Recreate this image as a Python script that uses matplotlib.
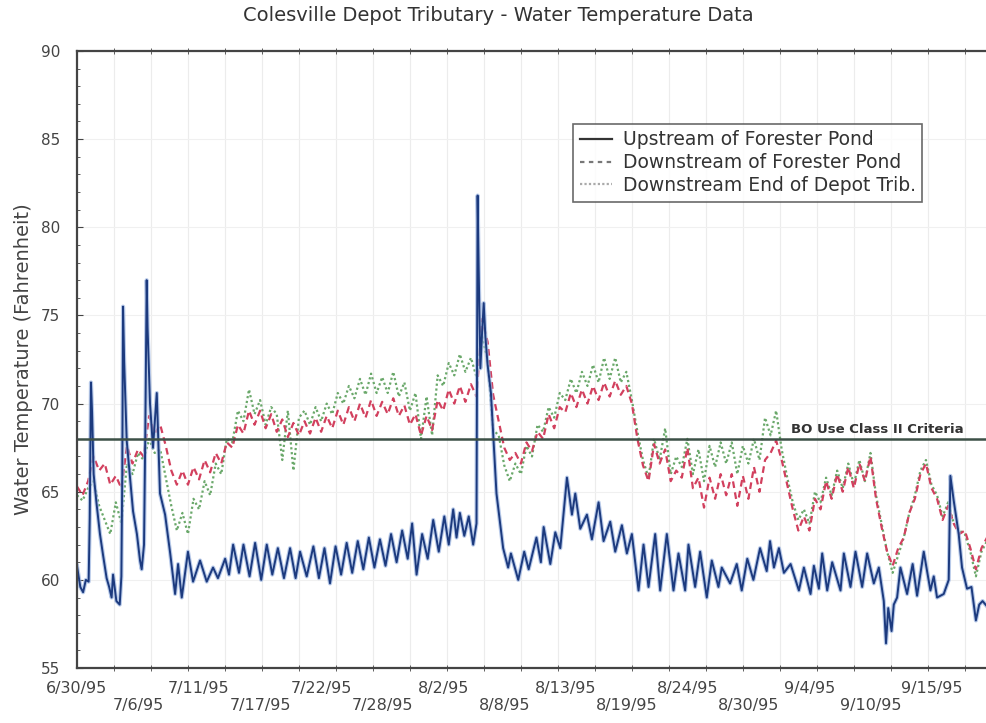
import numpy as np
import matplotlib
matplotlib.use('Agg')
import matplotlib.pyplot as plt
from matplotlib.lines import Line2D
from matplotlib.ticker import MultipleLocator, FixedLocator

# days after 6/30/95 and temperature (F) for the upstream logger
up_day = [0.0, 0.3, 0.55, 0.8, 1.05, 1.15, 1.26, 1.36, 1.5, 1.75, 2.07, 2.35, 2.67, 2.9, 3.12,
          3.25, 3.55, 3.85, 4.0, 4.08, 4.15, 4.25, 4.48, 4.78, 5.05, 5.4, 5.68, 5.83, 6.04, 6.15,
          6.28, 6.36, 6.58, 6.85, 7.19, 7.48, 7.94, 8.4, 8.84, 9.11, 9.44, 10.0, 10.46, 11.09, 11.69,
          12.26, 12.7, 13.35, 13.7,
          14.07, 14.6, 15.0, 15.55, 16.05, 16.6, 17.1, 17.6, 18.1, 18.65, 19.2, 19.7, 20.1, 20.7,
          21.3, 21.8, 22.3, 22.8, 23.3, 23.8, 24.3, 24.8, 25.3, 25.8, 26.3, 26.8, 27.3, 27.8, 28.3,
          28.8, 29.3, 29.8, 30.2, 30.6, 31.1, 31.6, 32.1, 32.6, 33.1, 33.5, 33.9, 34.2, 34.5, 34.9,
          35.3, 35.7, 36.0,
          36.1, 36.2, 36.35, 36.5, 36.65, 36.8, 37.0, 37.3, 37.8, 38.4, 38.85, 39.1, 39.76, 40.3,
          40.7, 41.4, 41.8, 42.05, 42.65, 43.1, 43.55, 44.15, 44.6, 44.9, 45.35, 45.95, 46.4, 47.0,
          47.45, 48.05, 48.5, 49.1, 49.55, 50.0, 50.6, 51.05, 51.5, 52.1, 52.55, 53.15, 53.75, 54.2,
          54.8, 55.1, 55.7, 56.15, 56.75, 57.2, 57.8, 58.1, 58.85, 59.45, 59.9, 60.4, 60.95, 61.55,
          62.15, 62.45, 62.8, 63.25, 63.7, 64.3, 65.05, 65.5, 66.1, 66.4, 66.85, 67.15, 67.6, 68.05,
          68.8, 69.1, 69.7, 70.15, 70.75, 71.2, 71.8, 72.25, 72.7, 72.9, 73.1, 73.4, 73.6, 73.9,
          74.2, 74.8, 75.3, 75.7, 76.3, 76.9, 77.2, 77.5, 78.1, 78.55, 78.7, 79.0, 79.45, 79.75,
          80.2, 80.6, 81.0, 81.3, 81.6, 82.0]
up_temp = [60.8, 59.6, 59.3, 60.0, 59.9, 63.5, 71.2, 69.5, 66.0, 64.4, 62.6, 61.4, 60.1, 59.6, 59.0,
           60.3, 58.8, 58.6, 60.2, 66.0, 75.5, 72.4, 67.9, 65.8, 63.9, 62.6, 61.1, 60.6, 62.0, 68.0,
           77.0, 74.3, 70.0, 67.5, 70.6, 64.9, 63.7, 61.5, 59.2, 60.9, 59.0, 61.6, 59.9, 61.1, 59.9,
           60.7, 60.1, 61.2, 60.3,
           62.0, 60.4, 62.0, 60.2, 62.1, 60.0, 62.0, 60.3, 61.8, 60.1, 61.8, 60.1, 61.6, 60.2,
           61.9, 60.1, 61.8, 59.8, 61.9, 60.3, 62.1, 60.4, 62.2, 60.6, 62.4, 60.7, 62.3, 60.8, 62.6,
           61.0, 62.8, 61.2, 63.2, 60.3, 62.6, 61.2, 63.4, 61.6, 63.6, 62.0, 64.0, 62.4, 63.8, 62.5,
           63.6, 62.0, 63.2,
           81.8, 77.5, 72.0, 74.0, 75.7, 73.8, 72.2, 70.6, 64.9, 61.8, 60.7, 61.5, 60.0, 61.6,
           60.6, 62.4, 61.0, 63.0, 60.9, 62.7, 61.8, 65.8, 63.7, 64.9, 62.9, 63.7, 62.3, 64.4,
           62.2, 63.3, 61.6, 63.1, 61.5, 62.6, 59.4, 62.0, 59.6, 62.6, 59.4, 62.6, 59.4, 61.5,
           59.4, 62.0, 59.6, 61.6, 59.0, 61.1, 59.6, 60.7, 59.8, 60.9, 59.4, 61.2, 60.0, 61.8,
           60.5, 62.2, 60.7, 61.8, 60.4, 60.9, 59.4, 60.7, 59.2, 60.8, 59.5, 61.5, 59.4, 61.0,
           59.4, 61.5, 59.6, 61.6, 59.6, 61.5, 59.8, 60.7, 58.8, 56.4, 58.4, 57.1, 58.6, 59.0,
           60.7, 59.2, 60.9, 59.1, 61.6, 59.4, 60.2, 59.0, 59.2, 60.0, 65.9, 64.5, 62.6, 60.7,
           59.5, 59.6, 57.7, 58.6, 58.8, 58.5]

# the two downstream loggers, read every half day starting 6/30/95
down_pond = [65.3, 64.8, 65.6, 67.0, 66.2, 66.6, 65.4, 65.9, 65.2, 67.6,
             66.6, 67.4, 67.0, 69.3, 68.3, 68.8, 67.6, 66.2, 65.4, 66.2,
             65.4, 66.4, 65.7, 66.8, 66.1, 67.2, 66.6, 67.8, 67.5, 68.8,
             68.3, 69.6, 68.8, 69.6, 68.6, 69.4, 68.4, 69.1, 68.1, 68.9,
             68.2, 69.0, 68.3, 69.2, 68.4, 69.3, 68.6, 69.6, 68.8, 69.8,
             69.0, 70.0, 69.2, 70.2, 69.3, 70.1, 69.4, 70.3, 69.3, 69.9,
             68.8, 69.4, 68.2, 69.3, 68.5, 70.2, 69.6, 70.8, 70.0, 71.0,
             70.1, 71.1, 70.4, 74.8, 73.5, 70.5, 69.0, 67.5, 66.8, 67.2,
             66.6, 67.8, 67.3, 68.4, 68.0, 69.4, 68.6, 69.8, 69.5, 70.6,
             69.8, 70.8, 70.0, 71.0, 70.2, 71.2, 70.4, 71.3, 70.5, 71.0,
             70.0, 68.0, 66.5, 65.6, 67.7, 66.6, 67.4, 65.6, 66.2, 65.8,
             67.5, 65.2, 65.8, 64.1, 65.8, 64.6, 66.0, 64.8, 66.0, 64.2,
             65.9, 64.6, 66.4, 65.0, 66.8, 67.2, 67.9, 66.8, 65.4, 64.0,
             62.8, 63.6, 62.8, 64.6, 64.0, 65.6, 64.6, 66.0, 65.0, 66.4,
             65.2, 66.6, 65.6, 67.0, 64.6, 63.0, 61.6, 60.8, 61.8, 62.4,
             63.8, 64.6, 66.0, 66.6, 65.2, 64.6, 63.4, 64.2, 63.2, 62.6,
             62.8, 61.8, 60.6, 61.8, 62.4]
down_trib = [64.8, 64.5, 65.2, 65.6, 64.2, 63.4, 62.6, 64.4, 63.2, 66.6,
             66.0, 67.2, 66.8, 68.0, 67.2, 67.4, 65.8, 64.2, 62.8, 63.8,
             62.6, 64.6, 64.0, 65.6, 64.8, 66.6, 66.0, 68.0, 67.8, 69.6,
             69.0, 70.8, 69.4, 70.2, 68.8, 69.8, 69.4, 66.8, 69.6, 66.2,
             69.2, 69.6, 68.8, 69.8, 69.0, 70.0, 69.4, 70.6, 70.0, 71.0,
             70.3, 71.4, 70.5, 71.7, 70.6, 71.5, 70.6, 71.8, 70.4, 71.2,
             69.6, 70.6, 68.0, 70.4, 68.2, 71.6, 71.0, 72.3, 71.6, 72.8,
             71.8, 72.6, 71.5, 73.8, 72.5, 68.5, 68.2, 66.5, 65.6, 66.6,
             66.0, 67.6, 67.0, 68.8, 68.4, 69.8, 69.2, 70.6, 70.2, 71.4,
             70.6, 71.8, 71.0, 72.2, 71.2, 72.6, 71.4, 72.6, 71.2, 71.8,
             70.2, 68.4, 66.8, 65.8, 68.0, 66.8, 68.6, 66.0, 67.0, 66.4,
             68.0, 66.0, 67.4, 65.6, 67.6, 66.4, 67.8, 66.6, 67.8, 66.0,
             67.6, 66.6, 68.0, 66.8, 69.2, 68.2, 69.6, 67.4, 65.8, 64.4,
             63.4, 64.0, 63.2, 65.0, 64.4, 65.8, 64.8, 66.2, 65.2, 66.6,
             65.4, 66.8, 65.6, 67.2, 64.8, 63.2, 61.6, 60.4, 61.4, 62.4,
             63.8, 64.8, 66.2, 66.8, 65.4, 64.8, 63.6, 64.4, 63.2, 62.8,
             62.6, 61.6, 60.2, 61.6, 62.2]
half_days = np.arange(len(down_pond)) * 0.5

criteria = 68
date_labels = ['6/30/95', '7/6/95', '7/11/95', '7/17/95', '7/22/95', '7/28/95', '8/2/95',
               '8/8/95', '8/13/95', '8/19/95', '8/24/95', '8/30/95', '9/4/95', '9/10/95',
               '9/15/95']

fig = plt.figure(figsize=(9.87, 7.23), dpi=100)
ax = fig.add_axes([0.078, 0.076, 0.922, 0.8535])

ax.plot(half_days, down_trib, color='#6aa86a', lw=1.6, linestyle=(0, (1, 1.2)))
ax.plot(half_days, down_pond, color='#d2405e', lw=1.6, linestyle=(0, (3, 2)))
ax.plot(up_day, up_temp, color='#9bb4e0', lw=3.0, alpha=0.7)
ax.plot(up_day, up_temp, color='#1c3a7e', lw=1.4)
ax.axhline(criteria, color='#3c5046', lw=1.8)
ax.text(64.3, criteria + 0.15, 'BO Use Class II Criteria', fontsize=9.5, fontweight='bold',
        color='#333333', va='bottom', ha='left')

ax.set_xlim(0, 82)
ax.set_ylim(55, 90)
ax.yaxis.set_major_locator(MultipleLocator(5))
ax.yaxis.set_minor_locator(MultipleLocator(1))
label_pos = [i * 5.5 for i in range(len(date_labels))]
ax.xaxis.set_major_locator(FixedLocator(label_pos))
ax.set_xticklabels([l if i % 2 == 0 else '\n' + l for i, l in enumerate(date_labels)])
ax.xaxis.set_minor_locator(MultipleLocator(10 / 3))
ax.tick_params(axis='x', which='major', length=0, pad=9, labelsize=11.5, colors='#444444')
ax.tick_params(axis='x', which='minor', length=4, direction='inout', top=True, color='#444444')
ax.tick_params(axis='y', which='major', length=4, direction='in', pad=12, labelsize=11,
               colors='#444444')
ax.tick_params(axis='y', which='minor', length=2, direction='in', color='#444444')
ax.grid(True, axis='x', which='minor', color='#ececec', lw=0.8)
ax.grid(True, axis='y', which='major', color='#f0f0f0', lw=0.8)
ax.set_axisbelow(True)
for s in ['left', 'bottom', 'top']:
    ax.spines[s].set_color('#444444')
    ax.spines[s].set_linewidth(1.6)
ax.spines['right'].set_visible(False)

ax.set_ylabel('Water Temperature (Fahrenheit)', fontsize=14, color='#444444', labelpad=6)
fig.text(0.505, 0.978, 'Colesville Depot Tributary - Water Temperature Data', ha='center',
         va='center', fontsize=14, color='#333333')

handles = [Line2D([], [], color='#333333', lw=1.6),
           Line2D([], [], color='#777777', lw=1.6, linestyle=(0, (2, 2))),
           Line2D([], [], color='#aaaaaa', lw=1.6, linestyle=(0, (1, 1)))]
leg = ax.legend(handles, ['Upstream of Forester Pond', 'Downstream of Forester Pond',
                          'Downstream End of Depot Trib.'],
                loc='upper left', bbox_to_anchor=(0.535, 0.897), fontsize=13.5, frameon=True,
                fancybox=False, edgecolor='#444444', labelspacing=0.2, handlelength=1.7,
                handletextpad=0.6, borderpad=0.35, labelcolor='#333333')
leg.get_frame().set_linewidth(1.2)

fig.savefig('out.png', dpi=100)
